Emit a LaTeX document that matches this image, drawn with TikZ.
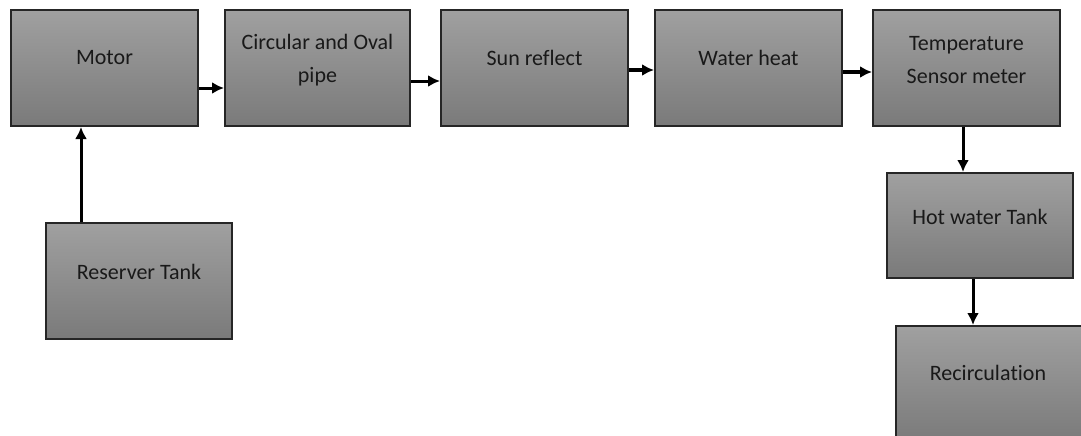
\documentclass[tikz,border=0pt]{standalone}
\usepackage{fontspec}
\setmainfont{Carlito}[Ligatures=NoCommon]
\usepackage{tikz}
\usetikzlibrary{arrows.meta}
\definecolor{boxtop}{RGB}{160,160,160}
\definecolor{boxbot}{RGB}{122,122,122}

\tikzset{
    block/.style={draw=black!85, line width=2pt, top color=boxtop, bottom color=boxbot,
                  minimum width=187pt, minimum height=116pt, inner sep=0pt},
    txt/.style={align=center, text=black!90, font=\fontsize{22}{33}\selectfont, inner sep=0pt},
    flow/.style={line width=3pt, ->, >={Latex[length=12pt,width=12pt]}}
}

\begin{document}
\begin{tikzpicture}[x=1pt, y={(0pt,-1pt)}]
    \clip (0,0) rectangle (1081,436);
    \fill[white] (0,0) rectangle (1081,436);

    % --- Top row of blocks ---
    \node[block] (motor)  at (104.5,68) {};
    \node[block, minimum width=185pt] (pipe) at (317.5,68) {};
    \node[block] (sun)    at (534.5,68) {};
    \node[block] (heat)   at (748.5,68) {};
    \node[block] (sensor) at (966.5,68) {};

    % --- Side blocks ---
    \node[block, minimum width=186pt] (reserver) at (139,281) {};
    \node[block, minimum width=186pt, minimum height=105pt] (hot) at (980,225.5) {};
    \node[block] (recirc) at (989.5,384) {};

    % Block texts
    \node[txt] (motor-t)    at (104.5,58)  {Motor};
    \node[txt] (pipe-t)     at (317.5,60.5) {Circular and Oval\\pipe};
    \node[txt] (sun-t)      at (534.5,58)  {Sun reflect};
    \node[txt] (heat-t)     at (748.5,58)  {Water heat};
    \node[txt] (sensor-t)   at (966.5,60.5) {Temperature\\Sensor meter};
    \node[txt] (reserver-t) at (139,272)   {Reserver Tank};
    \node[txt] (hot-t)      at (980,217)   {Hot water Tank};
    \node[txt] (recirc-t)   at (988,373)   {Recircula\kern0pt tion};

    % --- Connectors ---
    \draw[flow] ([yshift=-20pt]motor.east) -- ([yshift=-20pt]motor.east -| pipe.west);
    \draw[flow] ([yshift=-13pt]pipe.east) -- ([yshift=-13pt]pipe.east -| sun.west);
    \draw[flow] ([yshift=-2pt]sun.east) -- ([yshift=-2pt]sun.east -| heat.west);
    \draw[flow] ([yshift=-4pt]heat.east) -- ([yshift=-4pt]heat.east -| sensor.west);

    \draw[flow] ([xshift=-3.5pt]sensor.south) -- ([xshift=-3.5pt]sensor.south |- hot.north);
    \draw[flow] ([xshift=-7pt]hot.south) -- ([xshift=-7pt]hot.south |- recirc.north);
    \draw[flow] ([xshift=-58pt]reserver.north) -- ([xshift=-58pt]reserver.north |- motor.south);

\end{tikzpicture}
\end{document}
